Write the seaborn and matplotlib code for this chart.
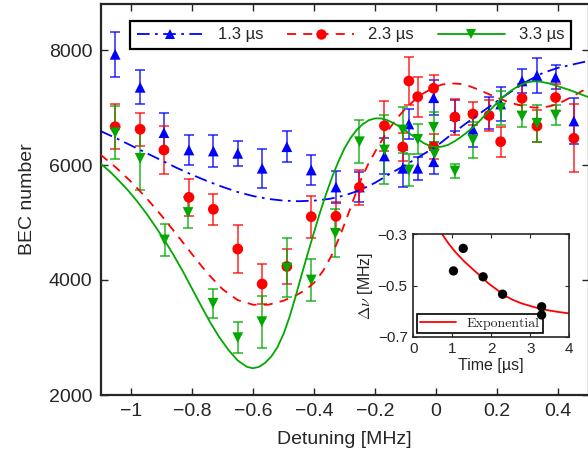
import numpy as np
import matplotlib
matplotlib.use("Agg")
import matplotlib.pyplot as plt
import seaborn as sns
from matplotlib.lines import Line2D

# ---- data ----
# 1.3 us (blue)
x_13 = [-1.052, -0.970, -0.892, -0.810, -0.730, -0.650, -0.570, -0.489, -0.409, -0.328,
        -0.251, -0.169, -0.109, -0.089, -0.060, -0.008, -0.008, 0.062, 0.121, 0.174,
        0.212, 0.282, 0.331, 0.392, 0.452]
y_13 = [7925, 7351, 6562, 6261, 6243, 6203, 5943, 6318, 5913, 5617,
        5617, 6157, 5943, 6713, 5943, 7170, 6057, 6861, 6621, 6904,
        7061, 7461, 7557, 7525, 6765]
e_13 = [386, 297, 343, 267, 272, 212, 339, 266, 267, 284,
        261, 319, 319, 261, 200, 300, 210, 265, 300, 270,
        300, 217, 304, 210, 400]

# 2.3 us (red)
x_23 = [-1.052, -0.970, -0.892, -0.810, -0.730, -0.650, -0.570, -0.489, -0.409, -0.328,
        -0.251, -0.169, -0.109, -0.089, -0.060, -0.008, -0.008, 0.062, 0.121, 0.174,
        0.212, 0.282, 0.331, 0.392, 0.452]
y_23 = [6666, 6621, 6261, 5438, 5230, 4539, 3930, 4235, 5101, 5108,
        5612, 6683, 6313, 7461, 7188, 7334, 6318, 6835, 6887, 6861,
        6405, 7160, 6678, 7174, 6464]
e_23 = [388, 287, 423, 322, 270, 420, 342, 310, 362, 245,
        304, 435, 250, 420, 350, 230, 217, 320, 200, 275,
        260, 245, 275, 230, 590]

# 3.3 us (green)
x_33 = [-1.052, -0.970, -0.890, -0.813, -0.731, -0.650, -0.571, -0.489, -0.409, -0.330,
        -0.251, -0.169, -0.109, -0.089, -0.060, -0.008, -0.005, 0.062, 0.121, 0.212,
        0.282, 0.331, 0.392]
y_33 = [6562, 6116, 4696, 5174, 3595, 2997, 3275, 4209, 4000, 4812,
        6405, 6261, 6609, 5913, 6447, 6656, 6191, 5896, 6435, 6991,
        6852, 6725, 6870]
e_33 = [464, 553, 278, 270, 252, 275, 450, 513, 371, 420,
        377, 600, 400, 280, 260, 260, 210, 125, 305, 290,
        190, 320, 175]

# fitted curves
fit_x_13 = [-1.10, -1.05, -1.00, -0.95, -0.90, -0.85, -0.80, -0.75, -0.70, -0.65,
            -0.60, -0.55, -0.50, -0.45, -0.40, -0.35, -0.30, -0.25, -0.20, -0.15,
            -0.10, -0.05, 0.00, 0.05, 0.10, 0.15, 0.20, 0.25, 0.30, 0.35,
            0.40, 0.45, 0.50]
fit_y_13 = [6590, 6470, 6340, 6210, 6080, 5950, 5830, 5720, 5620, 5530,
            5460, 5410, 5380, 5370, 5380, 5410, 5470, 5560, 5690, 5850,
            6000, 6160, 6320, 6530, 6730, 6920, 7110, 7290, 7460, 7600,
            7690, 7750, 7810]

fit_x_23 = [-1.10, -1.05, -1.00, -0.95, -0.90, -0.85, -0.80, -0.75, -0.70, -0.65,
            -0.60, -0.55, -0.50, -0.46, -0.43, -0.40, -0.37, -0.34, -0.31, -0.28,
            -0.25, -0.22, -0.19, -0.16, -0.13, -0.10, -0.07, -0.04, -0.01, 0.02,
            0.05, 0.08, 0.11, 0.14, 0.17, 0.20, 0.23, 0.26, 0.29, 0.32,
            0.35, 0.38, 0.41, 0.44, 0.47, 0.50]
fit_y_23 = [6180, 5960, 5710, 5430, 5120, 4790, 4450, 4120, 3840, 3650,
            3570, 3570, 3640, 3730, 3820, 3950, 4160, 4450, 4830, 5260,
            5700, 6040, 6320, 6580, 6800, 6980, 7130, 7250, 7340, 7400,
            7420, 7410, 7370, 7310, 7240, 7170, 7110, 7060, 7020, 7000,
            7000, 7030, 7090, 7170, 7260, 7350]

fit_x_33 = [-1.10, -1.07, -1.04, -1.01, -0.98, -0.95, -0.92, -0.89, -0.86, -0.83,
            -0.80, -0.77, -0.74, -0.71, -0.68, -0.65, -0.62, -0.60, -0.58, -0.56,
            -0.54, -0.52, -0.50, -0.48, -0.46, -0.44, -0.42, -0.40, -0.38, -0.36,
            -0.34, -0.32, -0.30, -0.28, -0.26, -0.24, -0.22, -0.20, -0.18, -0.16,
            -0.14, -0.12, -0.10, -0.08, -0.06, -0.04, -0.02, 0.00, 0.02, 0.04,
            0.06, 0.08, 0.10, 0.12, 0.14, 0.16, 0.18, 0.20, 0.22, 0.24,
            0.26, 0.28, 0.30, 0.32, 0.34, 0.37, 0.40, 0.44, 0.50]
fit_y_33 = [6025, 5890, 5730, 5560, 5370, 5160, 4930, 4690, 4430, 4150,
            3850, 3550, 3260, 3000, 2780, 2600, 2490, 2465, 2490, 2560,
            2670, 2830, 3060, 3360, 3720, 4100, 4470, 4830, 5180, 5500,
            5800, 6060, 6290, 6470, 6610, 6710, 6780, 6810, 6810, 6780,
            6730, 6670, 6600, 6520, 6450, 6380, 6330, 6310, 6320, 6350,
            6410, 6480, 6560, 6650, 6750, 6860, 6970, 7080, 7180, 7270,
            7340, 7400, 7440, 7455, 7450, 7420, 7370, 7300, 7180]

# inset: shift vs time
t_us = [1.03, 1.28, 1.79, 2.29, 3.29, 3.29]
shift_mhz = [-0.443, -0.355, -0.466, -0.534, -0.583, -0.615]
exp_t = [0.74, 0.9, 1.07, 1.3, 1.5, 1.7, 1.92, 2.15, 2.35, 2.55, 2.78, 3.0, 3.21, 3.5, 3.75, 4.0]
exp_y = [-0.300, -0.335, -0.368, -0.405, -0.433, -0.460, -0.491, -0.517, -0.540, -0.556,
         -0.570, -0.580, -0.589, -0.598, -0.604, -0.609]

xticks = [-1, -0.8, -0.6, -0.4, -0.2, 0, 0.2, 0.4]
xtick_labels = ["\u22121", "\u22120.8", "\u22120.6", "\u22120.4", "\u22120.2", "0", "0.2", "0.4"]
yticks = [2000, 4000, 6000, 8000]
labels = ["1.3 \u00b5s", "2.3 \u00b5s", "3.3 \u00b5s"]

BLUE = (0, 0, 1)
RED = (1, 0, 0)
GREEN = (0, 0.66, 0)

sns.set_theme(style="ticks")
plt.rcParams["font.family"] = ["Liberation Sans", "DejaVu Sans"]
plt.rcParams["mathtext.fontset"] = "cm"

fig = plt.figure(figsize=(5.88, 4.57), dpi=100)
ax = fig.add_axes([100.5 / 588, 62 / 457, 488 / 588, 391 / 457])

series = [
    (x_13, y_13, e_13, fit_x_13, fit_y_13, BLUE, "^", (0, (7, 3, 1.5, 3))),
    (x_23, y_23, e_23, fit_x_23, fit_y_23, RED, "o", (0, (5, 4))),
    (x_33, y_33, e_33, fit_x_33, fit_y_33, GREEN, "v", "-"),
]

for xs, ys, es, fx, fy, col, mk, ls in series:
    ax.errorbar(xs, ys, yerr=es, fmt="none", ecolor=col, elinewidth=1.1,
                capsize=3.5, capthick=1.1, alpha=0.85, zorder=2)
    sns.scatterplot(x=xs, y=ys, marker=mk, s=60, color=col, edgecolor="none",
                    linewidth=0, ax=ax, zorder=3)
    sns.lineplot(x=fx, y=fy, color=col, linestyle=ls, linewidth=1.3,
                 sort=False, estimator=None, ax=ax, zorder=4)

ax.set_xlim(-1.1, 0.5)
ax.set_ylim(2000, 8800)
ax.set_xticks(xticks)
ax.set_xticklabels(xtick_labels)
ax.set_yticks(yticks)
ax.tick_params(direction="in", top=True, right=True, length=5, width=1,
               labelsize=14, pad=6)
for sp in ax.spines.values():
    sp.set_linewidth(1.6)
ax.set_xlabel("Detuning [MHz]", fontsize=14, labelpad=8)
ax.set_ylabel("BEC number", fontsize=14, labelpad=9)

handles = []
for (xs, ys, es, fx, fy, col, mk, ls), lab in zip(series, labels):
    handles.append(Line2D([], [], color=col, linestyle=ls, linewidth=1.3,
                          marker=mk, markersize=7.5, markeredgewidth=0, label=lab))
leg = ax.legend(handles=handles, ncol=3, loc="upper left",
                bbox_to_anchor=(0.061, 0.957), borderaxespad=0, fontsize=12,
                handlelength=4.0, columnspacing=1.45, frameon=True, fancybox=False,
                framealpha=1, edgecolor="black", borderpad=0.4, handletextpad=0.85)
leg.get_frame().set_linewidth(1.6)

# inset
ins = fig.add_axes([413.3 / 588, (457 - 336.7) / 457, 156 / 588, 102.4 / 457])
sns.lineplot(x=exp_t, y=exp_y, color=RED, linewidth=1.3, sort=False,
             estimator=None, ax=ins, label="Exponential")
sns.scatterplot(x=t_us, y=shift_mhz, color="black", s=45, edgecolor="none", ax=ins,
                zorder=6)
ins.set_xlim(0, 4)
ins.set_ylim(-0.7, -0.3)
ins.set_xticks([0, 1, 2, 3, 4])
ins.set_yticks([-0.7, -0.5, -0.3])
ins.set_yticklabels(["\u22120.7", "\u22120.5", "\u22120.3"])
ins.tick_params(direction="in", top=True, right=True, length=3, width=0.8,
                labelsize=11, pad=4)
for sp in ins.spines.values():
    sp.set_linewidth(1.2)
ins.set_xlabel("Time [\u00b5s]", fontsize=11.5, labelpad=1)
ins.set_ylabel(r"$\Delta\nu$ [MHz]", fontsize=11.5, labelpad=2)
ileg = ins.legend(loc="lower left", frameon=True, fancybox=False,
                  framealpha=1, edgecolor="black", borderaxespad=0.25,
                  borderpad=0.25, handlelength=2.6, handletextpad=0.7,
                  prop={"family": "cmr10", "size": 10})
ileg.get_frame().set_linewidth(1.2)

fig.savefig("out.png", dpi=100)
